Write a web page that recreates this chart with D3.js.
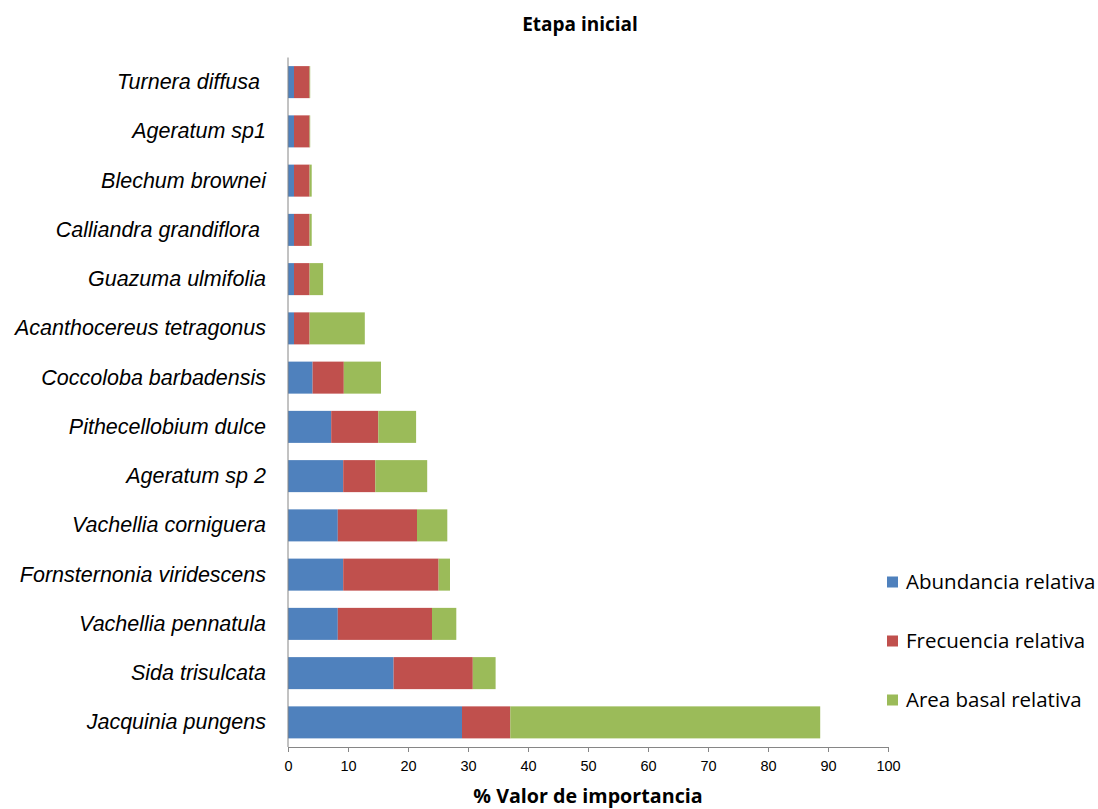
<!DOCTYPE html>
<html>
<head>
<meta charset="utf-8">
<script src="https://cdn.jsdelivr.net/npm/d3@7"></script>
<style>
  html, body { margin: 0; padding: 0; background: #fff; }
  svg { display: block; font-family: "Open Sans", "Liberation Sans", sans-serif; }
</style>
</head>
<body>
<svg id="chart" width="1098" height="809"></svg>
<script>
// Species, listed from top to bottom
const species = [
  "Turnera diffusa ",
  "Ageratum sp1",
  "Blechum brownei",
  "Calliandra grandiflora ",
  "Guazuma ulmifolia",
  "Acanthocereus tetragonus",
  "Coccoloba barbadensis",
  "Pithecellobium dulce",
  "Ageratum sp 2",
  "Vachellia corniguera",
  "Fornsternonia viridescens",
  "Vachellia pennatula",
  "Sida trisulcata",
  "Jacquinia pungens"
];

// Components of the importance value (%)
const abundancia = [1.0, 1.0, 1.0, 1.0, 1.0, 1.0, 4.1, 7.2, 9.2, 8.3, 9.2, 8.3, 17.6, 29.0];
const frecuencia = [2.6, 2.6, 2.6, 2.6, 2.6, 2.6, 5.2, 7.85, 5.35, 13.2, 15.9, 15.7, 13.2, 8.05];
const areaBasal  = [0.1, 0.1, 0.35, 0.35, 2.25, 9.2, 6.2, 6.3, 8.65, 5.05, 1.9, 4.05, 3.8, 51.65];

const seriesNames = ["Abundancia relativa", "Frecuencia relativa", "Area basal relativa"];
const seriesKeys = ["abundancia", "frecuencia", "areaBasal"];
const colors = ["#4F81BD", "#C0504D", "#9BBB59"];

const xTicks = [0, 10, 20, 30, 40, 50, 60, 70, 80, 90, 100];

const rows = species.map((s, i) => ({
  species: s,
  abundancia: abundancia[i],
  frecuencia: frecuencia[i],
  areaBasal: areaBasal[i]
}));

const svg = d3.select("#chart");
const margin = { left: 288, right: 210, top: 57.5, bottom: 62 };
const width = 1098 - margin.left - margin.right;   // 600
const height = 809 - margin.top - margin.bottom;

const x = d3.scaleLinear().domain([0, 100]).range([0, width]);
const y = d3.scaleBand().domain(species).range([0, height]).paddingInner(0.35).paddingOuter(0.175);

const g = svg.append("g").attr("transform", `translate(${margin.left},${margin.top})`);

const stacked = d3.stack().keys(seriesKeys)(rows);

g.selectAll("g.series")
  .data(stacked)
  .join("g")
  .attr("class", "series")
  .attr("fill", (d, i) => colors[i])
  .selectAll("rect")
  .data(d => d)
  .join("rect")
  .attr("x", d => x(d[0]))
  .attr("y", d => y(d.data.species))
  .attr("width", d => x(d[1]) - x(d[0]))
  .attr("height", y.bandwidth());

// x axis
const xAxis = g.append("g")
  .attr("transform", `translate(0,${height})`)
  .call(d3.axisBottom(x).tickValues(xTicks).tickSize(5).tickSizeOuter(0).tickPadding(9));
xAxis.select(".domain").attr("stroke", "#868686");
xAxis.selectAll(".tick line").attr("stroke", "#868686");
xAxis.selectAll(".tick text").attr("font-size", 14.5).attr("fill", "#000");

// y axis (line only, category labels drawn beside it)
const yAxis = g.append("g")
  .call(d3.axisLeft(y).tickSize(0).tickPadding(22));
yAxis.select(".domain").attr("stroke", "#868686").attr("d", `M0,0V${height}`);
yAxis.selectAll(".tick text")
  .attr("font-family", "'Liberation Sans', Arial, sans-serif")
  .attr("font-size", 21.5)
  .attr("font-style", "italic")
  .attr("fill", "#000")
  .style("white-space", "pre")
  .attr("xml:space", "preserve");

// Title
svg.append("text")
  .attr("x", 580).attr("y", 31)
  .attr("text-anchor", "middle")
  .attr("font-size", 19).attr("font-weight", "bold")
  .text("Etapa inicial");

// Axis title
svg.append("text")
  .attr("x", margin.left + width / 2).attr("y", 803)
  .attr("text-anchor", "middle")
  .attr("font-size", 19.7).attr("font-weight", "bold")
  .text("% Valor de importancia");

// Legend
const legend = svg.append("g").attr("transform", "translate(887,0)");
const legendY = [582, 641, 700];
seriesNames.forEach((name, i) => {
  legend.append("rect")
    .attr("x", 0).attr("y", legendY[i] - 5.5)
    .attr("width", 11).attr("height", 11)
    .attr("fill", colors[i]);
  legend.append("text")
    .attr("x", 19).attr("y", legendY[i])
    .attr("dy", "0.35em")
    .attr("font-size", 20.5)
    .text(name);
});
</script>
</body>
</html>
